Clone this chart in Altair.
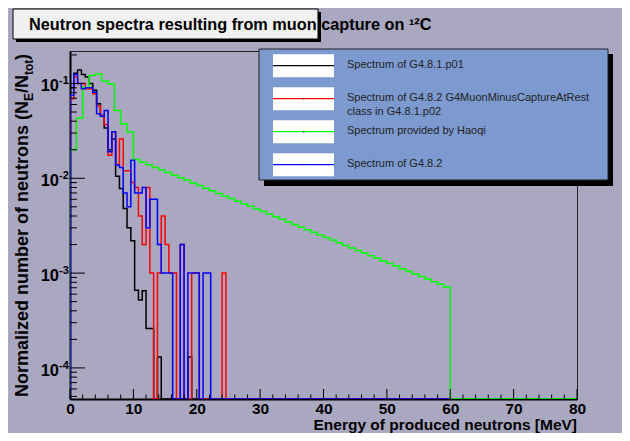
import altair as alt
import pandas as pd

# ---------------- data ----------------
FINE_BIN = 0.6    # MeV, black / red / blue histograms
COARSE_BIN = 1.0  # MeV, green histogram

black_vals = [0.09, 0.128, 0.139, 0.124, 0.117, 0.10, 0.085, 0.061, 0.046, 0.034,
              0.020, 0.026, 0.0105, 0.0078, 0.0048, 0.0030, 0.0022, 0.00066, 0.00052, 0.00065,
              0.00026, 0.00026, 0, 0.00013, 0, 0, 0, 0, 0, 0,
              0, 0.00013]

red_vals = [0.069, 0.117, 0.10, 0.10, 0.088, 0.088, 0.078, 0.058, 0.046, 0.037,
            0.0175, 0.031, 0.014, 0.026, 0.012, 0.012, 0.009, 0.008, 0.004, 0.002,
            0.008, 0.001, 0, 0.001, 0.004, 0.002, 0.001, 0.001, 0, 0.002,
            0, 0, 0.001, 0.001, 0, 0, 0, 0, 0, 0,
            0.001]

blue_vals = [0.075, 0.124, 0.10, 0.088, 0.09, 0.09, 0.081, 0.048, 0.045, 0.052,
             0.019, 0.031, 0.0138, 0.013, 0.007, 0.005, 0.0155, 0.007, 0.007, 0.008,
             0.003, 0.006, 0.006, 0.002, 0.001, 0.001, 0.001, 0, 0, 0.002,
             0, 0.001, 0.001, 0.001, 0, 0.001, 0.001]

green_vals = [0.020, 0.043, 0.091, 0.121, 0.126, 0.106, 0.099, 0.052, 0.0377, 0.0308,
              0.01574, 0.01479, 0.01387, 0.01303, 0.01222, 0.01148, 0.01079, 0.01012, 0.00951, 0.00891,
              0.00838, 0.00787, 0.00738, 0.00693, 0.00650, 0.00611, 0.00574, 0.00538, 0.00506, 0.00474,
              0.00446, 0.00419, 0.00393, 0.00369, 0.00346, 0.00325, 0.00305, 0.00286, 0.00269, 0.00252,
              0.00237, 0.00223, 0.00209, 0.00196, 0.00184, 0.00173, 0.00163, 0.00152, 0.00143, 0.00134,
              0.00126, 0.00119, 0.00111, 0.00104, 0.00098, 0.00092, 0.000865, 0.000811, 0.000762, 0.000715]

legend_labels = ["Spectrum of G4.8.1.p01",
                 "Spectrum of G4.8.2 G4MuonMinusCaptureAtRest\nclass in G4.8.1.p02",
                 "Spectrum provided by Haoqi",
                 "Spectrum of G4.8.2"]
legend_colors = ["#000000", "#ff0000", "#00ff00", "#0000ff"]

x_tick_labels = [0, 10, 20, 30, 40, 50, 60, 70, 80]
y_decades = [1e-4, 1e-3, 1e-2, 1e-1]
y_exponents = ["-4", "-3", "-2", "-1"]

title_text = "Neutron spectra resulting from muon capture on \u00b9\u00b2C"
x_title = "Energy of produced neutrons [MeV]"

# ---------------- styling ----------------
BG = "#aaa7c0"
LEG_BG = "#7c9ad0"
FONT = "Liberation Sans"
YMIN, YMAX = 4.7e-5, 0.22
XMIN, XMAX = 0, 80
W, H = 507, 348

XS = alt.Scale(domain=[XMIN, XMAX], nice=False, zero=False)
YS = alt.Scale(type="log", domain=[YMIN, YMAX], nice=False)
XA = alt.Axis(values=x_tick_labels, format="d", ticks=False, tickSize=0, grid=False, title=None,
              labelFont=FONT, labelFontWeight="bold", labelFontSize=15.5, labelColor="black",
              labelPadding=2, labelFlush=False, domainColor="black", domainWidth=2)
YA = alt.Axis(labels=False, ticks=False, grid=False, title=None, domainColor="black", domainWidth=2)


def steps(vals, w, x_end):
    xs, ys = [0.0], [YMIN]
    for k, v in enumerate(vals):
        vv = v if v > 0 else YMIN
        xs += [k * w, (k + 1) * w]
        ys += [vv, vv]
    last = len(vals) * w
    xs += [last, x_end]
    ys += [YMIN, YMIN]
    return pd.DataFrame({"E": xs, "v": ys, "i": list(range(len(xs)))})


def hist_layer(df, color):
    return alt.Chart(df).mark_line(color=color, strokeWidth=1.5, clip=True).encode(
        x=alt.X("E:Q", scale=XS, axis=XA),
        y=alt.Y("v:Q", scale=YS, axis=YA),
        order="i:Q",
    )


one = pd.DataFrame({"a": [0]})
layers = []

# histograms (drawn in legend order)
layers.append(hist_layer(steps(black_vals, FINE_BIN, 60), legend_colors[0]))
layers.append(hist_layer(steps(red_vals, FINE_BIN, 60), legend_colors[1]))
layers.append(hist_layer(steps(green_vals, COARSE_BIN, 80), legend_colors[2]))
layers.append(hist_layer(steps(blue_vals, FINE_BIN, 60), legend_colors[3]))

# inward ticks
y_minor = [m * 10.0 ** d for d in range(-5, 0) for m in range(2, 10) if YMIN <= m * 10.0 ** d <= YMAX]
x_minor = [e for e in range(0, 81, 2) if e % 10 != 0]
layers.append(alt.Chart(pd.DataFrame({"v": y_decades})).mark_rule(color="black", strokeWidth=1).encode(
    y=alt.Y("v:Q", scale=YS, axis=YA), x=alt.value(0), x2=alt.value(15)))
layers.append(alt.Chart(pd.DataFrame({"v": y_minor})).mark_rule(color="black", strokeWidth=1).encode(
    y=alt.Y("v:Q", scale=YS, axis=YA), x=alt.value(0), x2=alt.value(7)))
layers.append(alt.Chart(pd.DataFrame({"E": x_tick_labels})).mark_rule(color="black", strokeWidth=1).encode(
    x=alt.X("E:Q", scale=XS, axis=XA), y=alt.value(H), y2=alt.value(H - 10)))
layers.append(alt.Chart(pd.DataFrame({"E": x_minor})).mark_rule(color="black", strokeWidth=1).encode(
    x=alt.X("E:Q", scale=XS, axis=XA), y=alt.value(H), y2=alt.value(H - 4.5)))

# y tick labels 10^n
ylab = pd.DataFrame({"v": y_decades, "e": y_exponents})
layers.append(alt.Chart(ylab).mark_text(text="10", align="right", baseline="alphabetic", dy=8,
                                        font=FONT, fontWeight="bold", fontSize=16.5, color="black").encode(
    y=alt.Y("v:Q", scale=YS, axis=YA), x=alt.value(-11)))
layers.append(alt.Chart(ylab).mark_text(align="left", baseline="alphabetic", dy=1,
                                        font=FONT, fontWeight="bold", fontSize=11, color="black").encode(
    y=alt.Y("v:Q", scale=YS, axis=YA), x=alt.value(-11), text="e:N"))

# axis titles
layers.append(alt.Chart(one).mark_text(text=x_title, align="right", baseline="alphabetic",
                                       font=FONT, fontWeight="bold", fontSize=15.5, color="black").encode(
    x=alt.value(W), y=alt.value(379)))

ytitle_parts = [
    ("Normalized number of neutrons (N", 18, -42, 346),
    ("E", 12, -37, 50),
    ("/N", 18, -42, 42),
    ("tot", 12, -37, 24),
    (")", 18, -42, 9),
]
for txt, fs, px, py in ytitle_parts:
    layers.append(alt.Chart(one).mark_text(text=txt, angle=270, align="left", baseline="alphabetic",
                                           font=FONT, fontWeight="bold", fontSize=fs, color="black").encode(
        x=alt.value(px), y=alt.value(py)))

# legend box
layers.append(alt.Chart(one).mark_rect(color="black").encode(
    x=alt.value(194), x2=alt.value(543), y=alt.value(3), y2=alt.value(135)))
layers.append(alt.Chart(one).mark_rect(fill=LEG_BG, stroke="#222222", strokeWidth=1).encode(
    x=alt.value(189), x2=alt.value(538), y=alt.value(-2), y2=alt.value(129)))
row_centers = [14.7, 47.7, 80.7, 113.7]
for lab, col, cy in zip(legend_labels, legend_colors, row_centers):
    layers.append(alt.Chart(one).mark_rect(color="white").encode(
        x=alt.value(203), x2=alt.value(264), y=alt.value(cy - 11.5), y2=alt.value(cy + 11.5)))
    layers.append(alt.Chart(one).mark_rule(color=col, strokeWidth=1.2).encode(
        x=alt.value(203), x2=alt.value(264), y=alt.value(cy)))
    layers.append(alt.Chart(one).mark_rule(color="#333333", strokeWidth=1.2).encode(
        x=alt.value(233), x2=alt.value(234.5), y=alt.value(cy)))
    layers.append(alt.Chart(pd.DataFrame({"t": [lab]})).mark_text(
        align="left", baseline="middle", lineBreak="\n", lineHeight=14,
        font=FONT, fontSize=11, color="#222222").encode(
        x=alt.value(277), y=alt.value(cy - 0.5), text="t:N"))

# title box
layers.append(alt.Chart(one).mark_rect(color="black").encode(
    x=alt.value(-54), x2=alt.value(251), y=alt.value(-39), y2=alt.value(-9)))
layers.append(alt.Chart(one).mark_rect(fill="#f0f0f0", stroke="black", strokeWidth=1).encode(
    x=alt.value(-57), x2=alt.value(248), y=alt.value(-42), y2=alt.value(-12)))
layers.append(alt.Chart(one).mark_text(text=title_text, align="left", baseline="alphabetic",
                                       font=FONT, fontWeight="bold", fontSize=16.3, color="black").encode(
    x=alt.value(-41), y=alt.value(-21)))

chart = alt.layer(*layers).properties(
    width=W, height=H,
    padding={"left": 62, "top": 43, "right": 45, "bottom": 34},
    autosize=alt.AutoSizeParams(type="none"),
    background=BG,
).configure_view(stroke="#222222", strokeWidth=1, fill=BG)

chart.save("out.html", embed_options={"renderer": "svg", "actions": False})
